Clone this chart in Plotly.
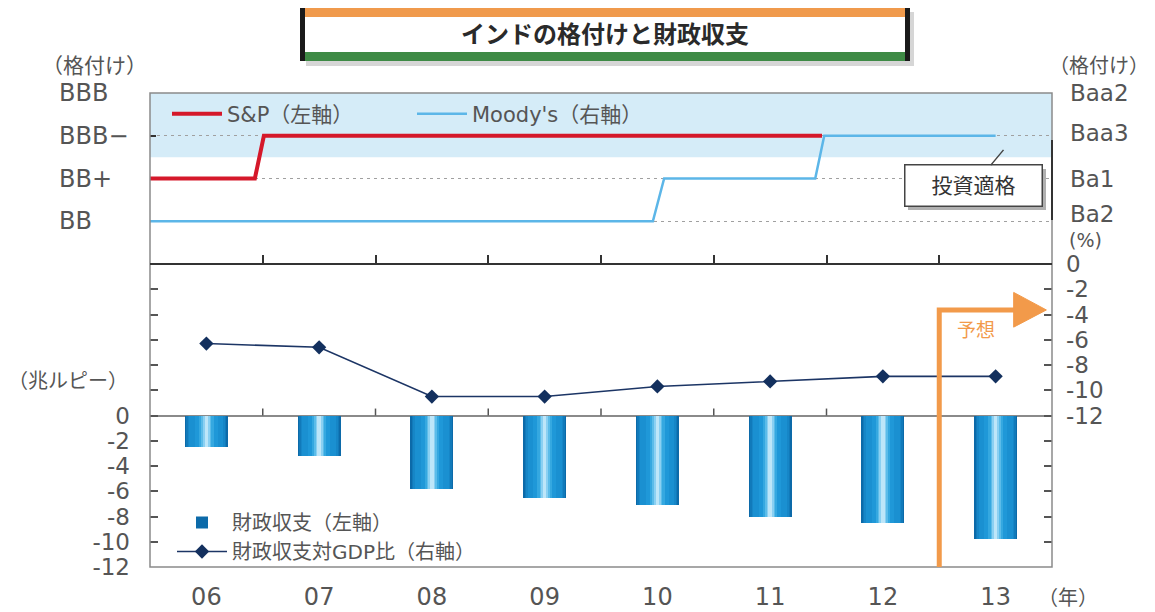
import plotly.graph_objects as go

# ---------------- data ----------------
years = ['06', '07', '08', '09', '10', '11', '12', '13']
balance = [-2.5, -3.2, -5.8, -6.5, -7.1, -8.0, -8.5, -9.8]          # 兆ルピー (left axis)
gdp_ratio = [-6.3, -6.6, -10.5, -10.5, -9.7, -9.3, -8.9, -8.9]      # % (right axis)

# rating step lines (x in category units, 0 = '06'); level 0=BB/Ba2 ... 3=BBB/Baa2
sp_x = [-0.5, 0.43, 0.51, 5.46]
sp_y = [1, 1, 2, 2]
moody_x = [-0.5, 3.96, 4.06, 5.40, 5.48, 7.0]
moody_y = [0, 0, 1, 1, 2, 2]
sp_labels = ['BB', 'BB+', 'BBB−', 'BBB']
moody_labels = ['Ba2', 'Ba1', 'Baa3', 'Baa2']
rating_levels = [0, 1, 2, 3]

left_ticks = [12, 10, 8, 6, 4, 2, 0, -2, -4, -6, -8, -10, -12]
left_text = ['', '', '', '', '', '', '0', '-2', '-4', '-6', '-8', '-10', '-12']
right_ticks = [0, -2, -4, -6, -8, -10, -12, -14, -16, -18, -20, -22, -24]
right_text = ['0', '-2', '-4', '-6', '-8', '-10', '-12', '', '', '', '', '', '']
forecast_from = 6.5

FONT = 'DejaVu Sans, Noto Sans CJK JP'
GRAY = '#555555'
xs = list(range(len(years)))
boundaries = [i + 0.5 for i in xs[:-1]]

# geometry: page body has an 8px margin, so the figure is sized to fit the window
W, H = 1147, 604
L, R, T, B = 142, 103, 85, 45
PW, PH = W - L - R, H - T - B
X0, YB = 150, 567          # plot area left / bottom in window pixels
def px(x):
    return (x - X0) / PW
def py(y):
    return (YB - y) / PH
split = py(264)

fig = go.Figure()

# ---- top panel ----
fig.add_trace(go.Scatter(x=sp_x, y=sp_y, mode='lines', name='S&P（左軸）',
                         line=dict(color='#d5182a', width=4), xaxis='x', yaxis='y',
                         legend='legend'))
fig.add_trace(go.Scatter(x=moody_x, y=moody_y, mode='lines', name="Moody's（右軸）",
                         line=dict(color='#5cb6e8', width=2.5), xaxis='x', yaxis='y4',
                         legend='legend'))

# ---- bottom panel: bars with cylinder shading ----
layers = [(0.38, '#0c6aa9'), (0.355, '#117aba'), (0.33, '#1686c7'), (0.30, '#1a90d1'),
          (0.20, '#1f98d8'), (0.13, '#35a8e0'), (0.09, '#5bbce9'), (0.06, '#8ad0f2'),
          (0.03, '#bde6f9')]
for i, (w, c) in enumerate(layers):
    fig.add_trace(go.Bar(x=xs, y=balance, width=w, marker=dict(color=c, line=dict(width=0)),
                         name='財政収支（左軸）', showlegend=(i == 0), xaxis='x2', yaxis='y2',
                         legend='legend2', hoverinfo='skip' if i else None))
fig.add_trace(go.Scatter(x=xs, y=gdp_ratio, mode='lines+markers', name='財政収支対GDP比（右軸）',
                         line=dict(color='#1c3565', width=1.6),
                         marker=dict(symbol='diamond', size=11, color='#13305e'),
                         xaxis='x2', yaxis='y3', legend='legend2'))

shapes = []
# investment grade band
shapes.append(dict(type='rect', xref='x', yref='y', x0=-0.5, x1=7.5, y0=1.5, y1=3,
                   fillcolor='#d5ecf8', line=dict(width=0), layer='below'))
# plot border
shapes.append(dict(type='rect', xref='paper', yref='paper', x0=0, x1=1, y0=0, y1=1,
                   line=dict(color='#8a8a8a', width=1.5)))
# separator between panels
shapes.append(dict(type='line', xref='paper', yref='paper', x0=0, x1=1, y0=split, y1=split,
                   line=dict(color='#333333', width=2)))
# dark segment on right border of top panel
shapes.append(dict(type='line', xref='paper', yref='y', x0=1, x1=1, y0=0.03, y1=1.9,
                   line=dict(color='#333333', width=2)))
# small ticks on zero line
for b in boundaries:
    shapes.append(dict(type='line', xref='x2', yref='y2', x0=b, x1=b, y0=0, y1=0.55,
                       line=dict(color=GRAY, width=1.5)))
# forecast arrow
ORANGE = '#f29a4a'
shapes.append(dict(type='path', xref='x2', yref='y2',
                   path=f'M {forecast_from},-12 L {forecast_from},8.36 L 7.2,8.36',
                   line=dict(color=ORANGE, width=5)))
shapes.append(dict(type='path', xref='x2', yref='y2',
                   path='M 7.16,9.75 L 7.45,8.36 L 7.16,7.0 Z',
                   fillcolor=ORANGE, line=dict(color=ORANGE, width=1)))
# title box
shapes.append(dict(type='rect', xref='paper', yref='paper', x0=px(306), x1=px(914), y0=py(66), y1=py(12),
                   fillcolor='#d6d6d6', line=dict(width=0)))
shapes.append(dict(type='rect', xref='paper', yref='paper', x0=px(302), x1=px(908), y0=py(61), y1=py(8),
                   fillcolor='white', line=dict(width=0)))
shapes.append(dict(type='rect', xref='paper', yref='paper', x0=px(302), x1=px(908), y0=py(17), y1=py(8),
                   fillcolor='#f09a4c', line=dict(width=0)))
shapes.append(dict(type='rect', xref='paper', yref='paper', x0=px(302), x1=px(908), y0=py(61), y1=py(52),
                   fillcolor='#3e8a45', line=dict(width=0)))
shapes.append(dict(type='rect', xref='paper', yref='paper', x0=px(300), x1=px(305), y0=py(61), y1=py(8),
                   fillcolor='#1a1a1a', line=dict(width=0)))
shapes.append(dict(type='rect', xref='paper', yref='paper', x0=px(905), x1=px(910), y0=py(61), y1=py(8),
                   fillcolor='#1a1a1a', line=dict(width=0)))
# callout shadow
shapes.append(dict(type='rect', xref='paper', yref='paper', x0=px(908), x1=px(1046), y0=py(210), y1=py(169),
                   fillcolor='#b0b0b0', line=dict(width=0)))

annotations = []
for lv, t in zip(rating_levels, sp_labels):
    annotations.append(dict(xref='paper', yref='y', x=px(57), y=lv, text=t, showarrow=False,
                            xanchor='left', yanchor='middle', font=dict(size=24, color=GRAY, family=FONT)))
for lv, t in zip(rating_levels, moody_labels):
    annotations.append(dict(xref='paper', yref='y', x=px(1068), y=lv, text=t, showarrow=False,
                            xanchor='left', yanchor='middle', yshift=7 if lv == 0 else (3 if lv == 2 else 0),
                            font=dict(size=23, color=GRAY, family=FONT)))
annotations += [
    dict(xref='paper', yref='paper', x=px(40), y=py(66), text='（格付け）', showarrow=False,
         xanchor='left', yanchor='middle', font=dict(size=21, color=GRAY, family=FONT)),
    dict(xref='paper', yref='paper', x=px(1047), y=py(66), text='（格付け）', showarrow=False,
         xanchor='left', yanchor='middle', font=dict(size=20, color=GRAY, family=FONT)),
    dict(xref='paper', yref='paper', x=px(1067), y=py(240), text='(%)', showarrow=False,
         xanchor='left', yanchor='middle', font=dict(size=19, color=GRAY, family=FONT)),
    dict(xref='paper', yref='paper', x=px(130), y=py(381), text='（兆ルピー）', showarrow=False,
         xanchor='right', yanchor='middle', font=dict(size=20, color=GRAY, family=FONT)),
    dict(xref='paper', yref='paper', x=px(1036), y=py(598), text='（年）', showarrow=False,
         xanchor='left', yanchor='middle', font=dict(size=20, color=GRAY, family=FONT)),
    dict(xref='x2', yref='y2', x=6.83, y=6.8, text='予想', showarrow=False,
         font=dict(size=19, color=ORANGE, family=FONT)),
    dict(xref='paper', yref='paper', x=px(605), y=py(35), text='<b>インドの格付けと財政収支</b>',
         showarrow=False, xanchor='center', yanchor='middle',
         font=dict(size=24, color='#2a2a2a', family=FONT)),
    dict(xref='x', yref='y', x=7.07, y=1.67, ax=-30, ay=36, text='投資適格', showarrow=True,
         arrowhead=0, arrowwidth=1.5, arrowcolor='#444', bgcolor='white', bordercolor='#444',
         borderwidth=1.5, borderpad=2, width=132, height=36,
         font=dict(size=21, color='#333', family=FONT)),
]

fig.update_layout(
    width=W, height=H,
    margin=dict(l=L, r=R, t=T, b=B, autoexpand=False),
    paper_bgcolor='white', plot_bgcolor='white',
    font=dict(family=FONT, color=GRAY),
    barmode='overlay',
    bargap=0,
    shapes=shapes,
    annotations=annotations,
    xaxis=dict(domain=[0, 1], anchor='y', range=[-0.5, 7.5], tickvals=boundaries,
               ticks='inside', ticklen=9, tickwidth=1.5, tickcolor='#333',
               showticklabels=False, showgrid=False, zeroline=False, showline=False),
    yaxis=dict(domain=[split, 1], anchor='x', range=[-1, 3], tickvals=[2],
               ticks='inside', ticklen=6, tickwidth=2, tickcolor='#333',
               showticklabels=False, showgrid=False, zeroline=False, showline=False),
    yaxis4=dict(overlaying='y', side='right', anchor='x', range=[-1, 3], tickvals=rating_levels,
                showticklabels=False, ticks='', showgrid=True, gridcolor='#a0a0a0', gridwidth=1,
                griddash='3px,4px', zeroline=False, showline=False),
    xaxis2=dict(domain=[0, 1], anchor='y2', range=[-0.5, 7.5], tickvals=xs, ticktext=years,
                ticks='', showgrid=False, zeroline=False, showline=False, ticklabelstandoff=13,
                tickfont=dict(size=24, color=GRAY, family=FONT)),
    yaxis2=dict(domain=[0, split], anchor='x2', range=[-12, 12], tickvals=left_ticks,
                ticktext=left_text, ticks='inside', ticklen=8, tickwidth=1.5, tickcolor=GRAY,
                showgrid=False, zeroline=True, zerolinecolor='#8a8a8a', zerolinewidth=1.5,
                showline=False, ticklabelstandoff=19,
                tickfont=dict(size=23, color=GRAY, family=FONT)),
    yaxis3=dict(overlaying='y2', side='right', anchor='x2', range=[-24, 0], tickvals=right_ticks,
                ticktext=right_text, ticks='inside', ticklen=8, tickwidth=1.5, tickcolor=GRAY,
                showgrid=False, zeroline=False, showline=False, ticklabelstandoff=13,
                tickfont=dict(size=23, color=GRAY, family=FONT)),
    legend=dict(x=px(167), y=py(114), xanchor='left', yanchor='middle', orientation='h',
                bgcolor='rgba(0,0,0,0)', font=dict(size=21, color=GRAY, family=FONT),
                entrywidth=180, entrywidthmode='pixels', itemwidth=50),
    legend2=dict(x=px(172), y=py(503), xanchor='left', yanchor='top', orientation='v',
                 bgcolor='rgba(0,0,0,0)', font=dict(size=20, color=GRAY, family=FONT),
                 itemwidth=50, tracegroupgap=0),
    showlegend=True,
)

fig.write_html('out.html')
